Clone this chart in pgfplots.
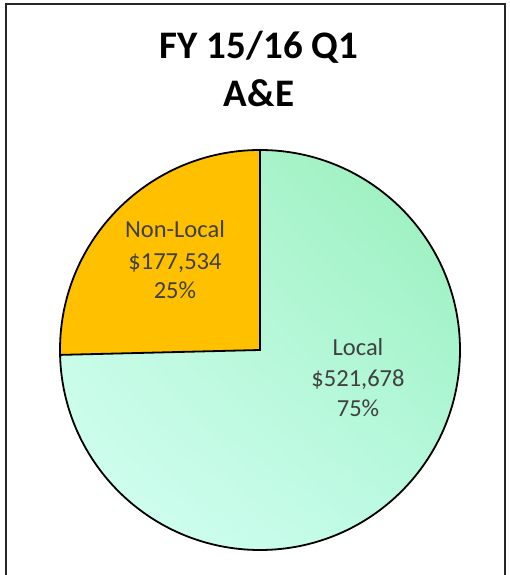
\documentclass[border=0pt]{standalone}
\usepackage{fontspec}
\setmainfont{Carlito}
\usepackage{pgfplots}
\pgfplotsset{compat=1.18}
\usetikzlibrary{shadings}
\definecolor{NonLocal}{RGB}{255,192,0}
\definecolor{LocalUR}{RGB}{150,238,184}
\definecolor{LocalUL}{RGB}{186,249,220}
\definecolor{LocalLR}{RGB}{186,250,226}
\definecolor{LocalLL}{RGB}{214,255,244}
\definecolor{LabelGray}{RGB}{64,64,64}

% slice values (thousands of dollars)
\def\valLocal{521.678}
\def\valNonLocal{177.534}

\begin{document}
\begin{tikzpicture}[x=1pt,y=1pt]
\pgfmathsetmacro\fracNL{\valNonLocal/(\valNonLocal+\valLocal)}
\pgfmathsetmacro\angNL{90+360*\fracNL}
\useasboundingbox (0,0) rectangle (510,575);
\clip (0,0) rectangle (510,575);
\draw[line width=2.2pt, black!85] (6,-10) -- (6,571) -- (505,571) -- (505,-10);

\begin{axis}[
    at={(60pt,25pt)}, anchor=south west,
    scale only axis, width=400pt, height=400pt,
    xmin=-1, xmax=1, ymin=-1, ymax=1,
    hide axis, clip=false
]
% Local slice (clockwise from 12 o'clock)
\shade[upper right=LocalUR, upper left=LocalUL, lower right=LocalLR, lower left=LocalLL]
    (axis cs:0,0) -- (axis cs:0,1) arc[start angle=90, end angle=\angNL-360, radius=200pt] -- cycle;
% Non-Local slice
\fill[NonLocal]
    (axis cs:0,0) -- (axis cs:0,1) arc[start angle=90, end angle=\angNL, radius=200pt] -- cycle;
\draw[line width=1.8pt] (axis cs:0,0) circle[radius=200pt];
\draw[line width=1.8pt] (axis cs:0,1) -- (axis cs:0,0) -- ++(\angNL:200pt);
\end{axis}

\begin{scope}[every node/.style={anchor=base, text=LabelGray, font=\fontsize{24.5}{28}\selectfont, inner sep=0pt}]
\node at (175,337) {Non-Local};
\node at (175,305) {\$177,534};
\node at (175,276) {25\%};
\node at (358,219) {Local};
\node at (358,188) {\$521,678};
\node at (358,158) {75\%};
\end{scope}

\node[anchor=base, inner sep=0pt, font=\fontsize{39}{44}\selectfont\bfseries] at (259,516) {FY 15/16 Q1};
\node[anchor=base, inner sep=0pt, font=\fontsize{39}{44}\selectfont\bfseries] at (259,468) {A\&E};
\end{tikzpicture}
\end{document}
